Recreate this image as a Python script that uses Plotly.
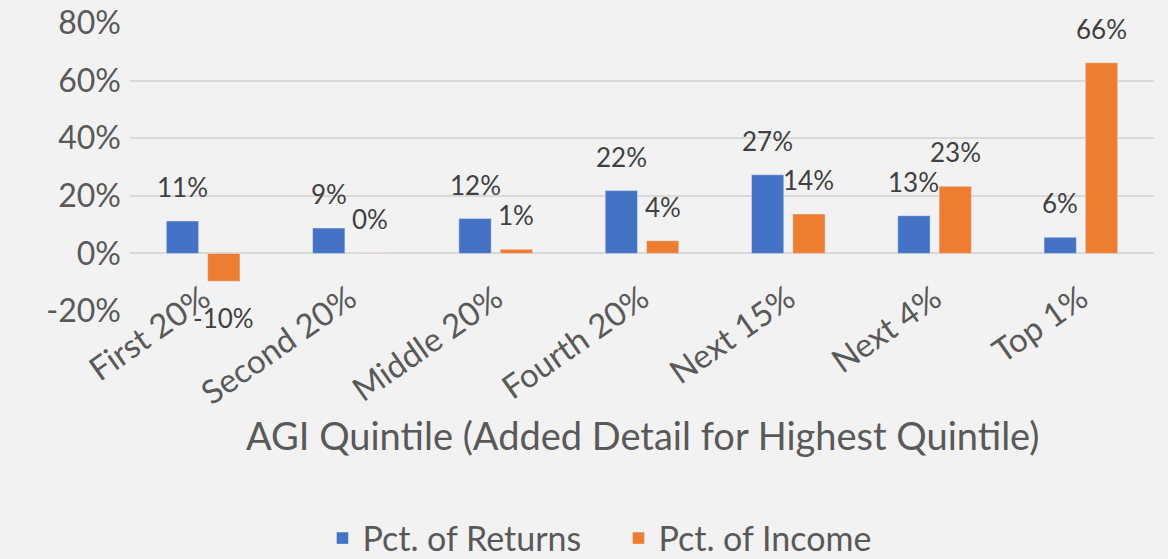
import plotly.graph_objects as go

categories = ["First 20%", "Second 20%", "Middle 20%", "Fourth 20%", "Next 15%", "Next 4%", "Top 1%"]
pct_returns = [0.1125, 0.088, 0.121, 0.218, 0.273, 0.131, 0.056]
pct_income = [-0.0965, 0.001, 0.014, 0.044, 0.137, 0.233, 0.662]
series_names = ["Pct. of Returns", "Pct. of Income"]
y_tick_vals = [-0.2, 0, 0.2, 0.4, 0.6, 0.8]
y_tick_text = ["-20%", "0%", "20%", "40%", "60%", "80%"]
x_title = "AGI Quintile (Added Detail for Highest Quintile)"

BLUE = "#4472C4"
ORANGE = "#ED7D31"
FONT = "Lato"
TEXT = "#595959"
LABEL = "#404040"

fig = go.Figure()
fig.add_trace(go.Bar(x=categories, y=pct_returns, name=series_names[0], marker_color=BLUE))
fig.add_trace(go.Bar(x=categories, y=pct_income, name=series_names[1], marker_color=ORANGE))

annotations = []
for vals, shift in ((pct_returns, -20.6), (pct_income, 20.6)):
    for c, v in zip(categories, vals):
        annotations.append(dict(
            x=c, y=v, xref="x", yref="y", text=f"{round(v * 100):.0f}%",
            showarrow=False, xshift=shift, yshift=34 if v >= 0 else -37,
            yanchor="middle", xanchor="center",
            font=dict(family=FONT, size=26, color=LABEL),
        ))
annotations.append(dict(
    x=0.5, y=-0.43, xref="paper", yref="paper", text=x_title, showarrow=False,
    xanchor="center", yanchor="middle", font=dict(family=FONT, size=38, color=TEXT),
))

fig.update_layout(
    width=1168, height=559,
    paper_bgcolor="#F2F2F2", plot_bgcolor="#F2F2F2",
    margin=dict(l=130, r=14, t=23, b=248, autoexpand=False),
    barmode="group", bargap=0.435, bargroupgap=0.218,
    font=dict(family=FONT, color=TEXT),
    showlegend=True,
    legend=dict(orientation="h", x=0.477, xanchor="center", y=-0.79, yanchor="middle",
                font=dict(family=FONT, size=34, color=TEXT), itemwidth=30,
                entrywidth=251, bgcolor="rgba(0,0,0,0)"),
    annotations=annotations,
)
fig.update_yaxes(range=[-0.2, 0.8], tickvals=y_tick_vals, ticktext=y_tick_text,
                 showgrid=True, gridcolor="#D9D9D9", gridwidth=1.5,
                 zeroline=True, zerolinecolor="#D9D9D9", zerolinewidth=1.5,
                 showline=False, ticks="", tickfont=dict(family=FONT, size=32, color=TEXT),
                 ticklabelstandoff=8)
fig.update_xaxes(anchor="free", position=0.135, tickangle=-35, showgrid=False,
                 showline=False, ticks="", tickfont=dict(family=FONT, size=33, color=TEXT))

fig.write_html("out.html", config={"displayModeBar": False},
               post_script="document.body.style.margin='0';")
